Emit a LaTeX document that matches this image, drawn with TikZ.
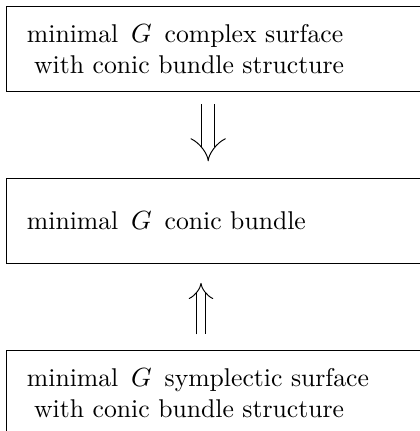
\documentclass[tikz,border=0pt]{standalone}
\usetikzlibrary{arrows.meta, positioning}
\tikzset{
  surfbox/.style={draw, line width=0.5pt, anchor=north west,
    minimum width=180pt, minimum height=35.4pt, text width=163pt,
    inner xsep=8.2pt, align=left, font=\fontsize{10.7}{12.9}\selectfont},
  impl/.style={double, line width=0.4pt, double distance=#1, -{Implies[scale=1.25]}},
}

\begin{document}
\begin{tikzpicture}[x=0.4167pt, y=-0.4167pt, node distance=35.8pt]
\useasboundingbox (0,0) rectangle (420,431);
\node[surfbox] (complex) at (6,6) {minimal~\,$G$\, complex surface\\\hspace*{3pt}with conic bundle structure};
\node[surfbox, below=of complex] (conic) {minimal~\,$G$\, conic bundle};
\node[surfbox, below=of conic] (sympl) {minimal~\,$G$\, symplectic surface\\\hspace*{3pt}with conic bundle structure};
\draw[impl=5pt, shorten <=5pt, shorten >=7pt] ([xshift=-6pt]complex.south) -- ([xshift=-6pt]conic.north);
\draw[impl=3.3pt, shorten <=6.6pt, shorten >=7.8pt] ([xshift=-9pt]sympl.north) -- ([xshift=-9pt]conic.south);
\end{tikzpicture}
\end{document}
